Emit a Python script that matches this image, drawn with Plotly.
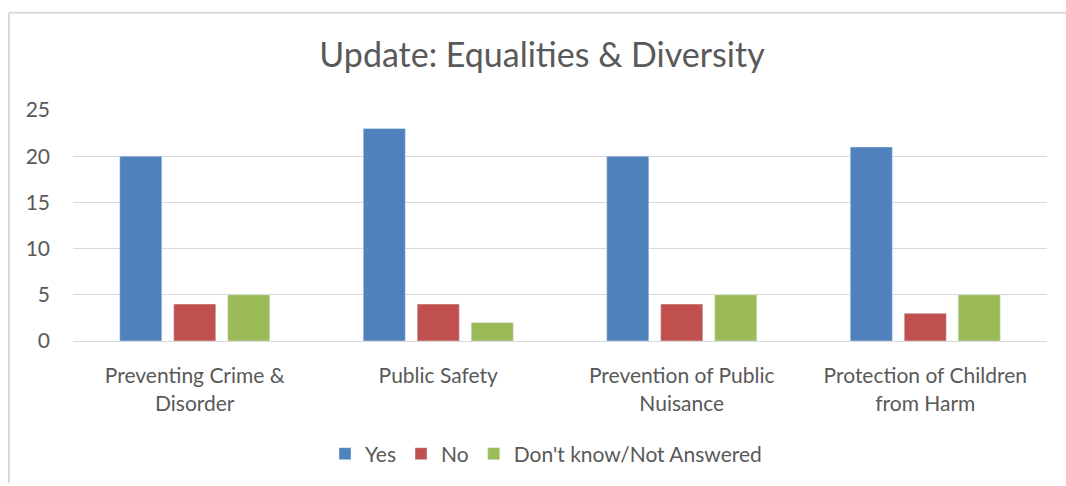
import plotly.graph_objects as go

categories = ["Preventing Crime &<br>Disorder", "Public Safety", "Prevention of Public<br>Nuisance", "Protection of Children<br>from Harm"]
yes_vals = [20, 23, 20, 21]
no_vals = [4, 4, 4, 3]
dk_vals = [5, 2, 5, 5]

FONT = "Lato, 'Open Sans', sans-serif"
fig = go.Figure()
fig.add_bar(x=categories, y=yes_vals, name="Yes", marker_color="#4F81BD")
fig.add_bar(x=categories, y=no_vals, name="No", marker_color="#C0504D")
fig.add_bar(x=categories, y=dk_vals, name="Don't know/Not Answered", marker_color="#9BBB59")

L, R, T, B = 73, 19, 110, 143
W, H = 1066, 486
pw, ph = W - L - R, H - T - B

def px_x(x):
    return (x - L) / pw

def px_y(y):
    return (H - B - y) / ph

border = dict(color="#D9D9D9", width=2)
fig.update_layout(
    width=W, height=H,
    margin=dict(l=L, r=R, t=T, b=B),
    paper_bgcolor="white", plot_bgcolor="white",
    barmode="group", bargap=0.335, bargroupgap=0.22,
    font=dict(family=FONT, color="#595959", size=21),
    title=dict(text="Update: Equalities & Diversity", x=542 / W, xref="container", xanchor="center",
               y=1 - 55 / H, yref="container", yanchor="middle",
               font=dict(size=34, color="#595959", family=FONT)),
    xaxis=dict(showgrid=False, showline=True, linecolor="#D9D9D9", linewidth=1, ticks="",
               ticklabelstandoff=16, tickfont=dict(size=21, color="#595959")),
    yaxis=dict(range=[0, 25], dtick=5, showgrid=True, gridcolor="#D9D9D9", gridwidth=1,
               zeroline=False, showline=False, ticks="", ticklabelstandoff=22,
               tickfont=dict(size=21, color="#595959")),
    legend=dict(orientation="h", x=px_x(546), y=px_y(457), xanchor="center", yanchor="middle",
                font=dict(size=21, color="#595959"), itemwidth=30, traceorder="normal"),
    showlegend=True,
    shapes=[
        dict(type="line", xref="paper", yref="paper", x0=px_x(9), x1=px_x(1066), y0=px_y(12), y1=px_y(12),
             line=border, layer="below"),
        dict(type="line", xref="paper", yref="paper", x0=px_x(9), x1=px_x(9), y0=px_y(12), y1=px_y(486),
             line=border, layer="below"),
    ],
)
fig.write_html("out.html", config={"displayModeBar": False},
               post_script="document.body.style.margin='0';document.body.style.overflow='hidden';")
